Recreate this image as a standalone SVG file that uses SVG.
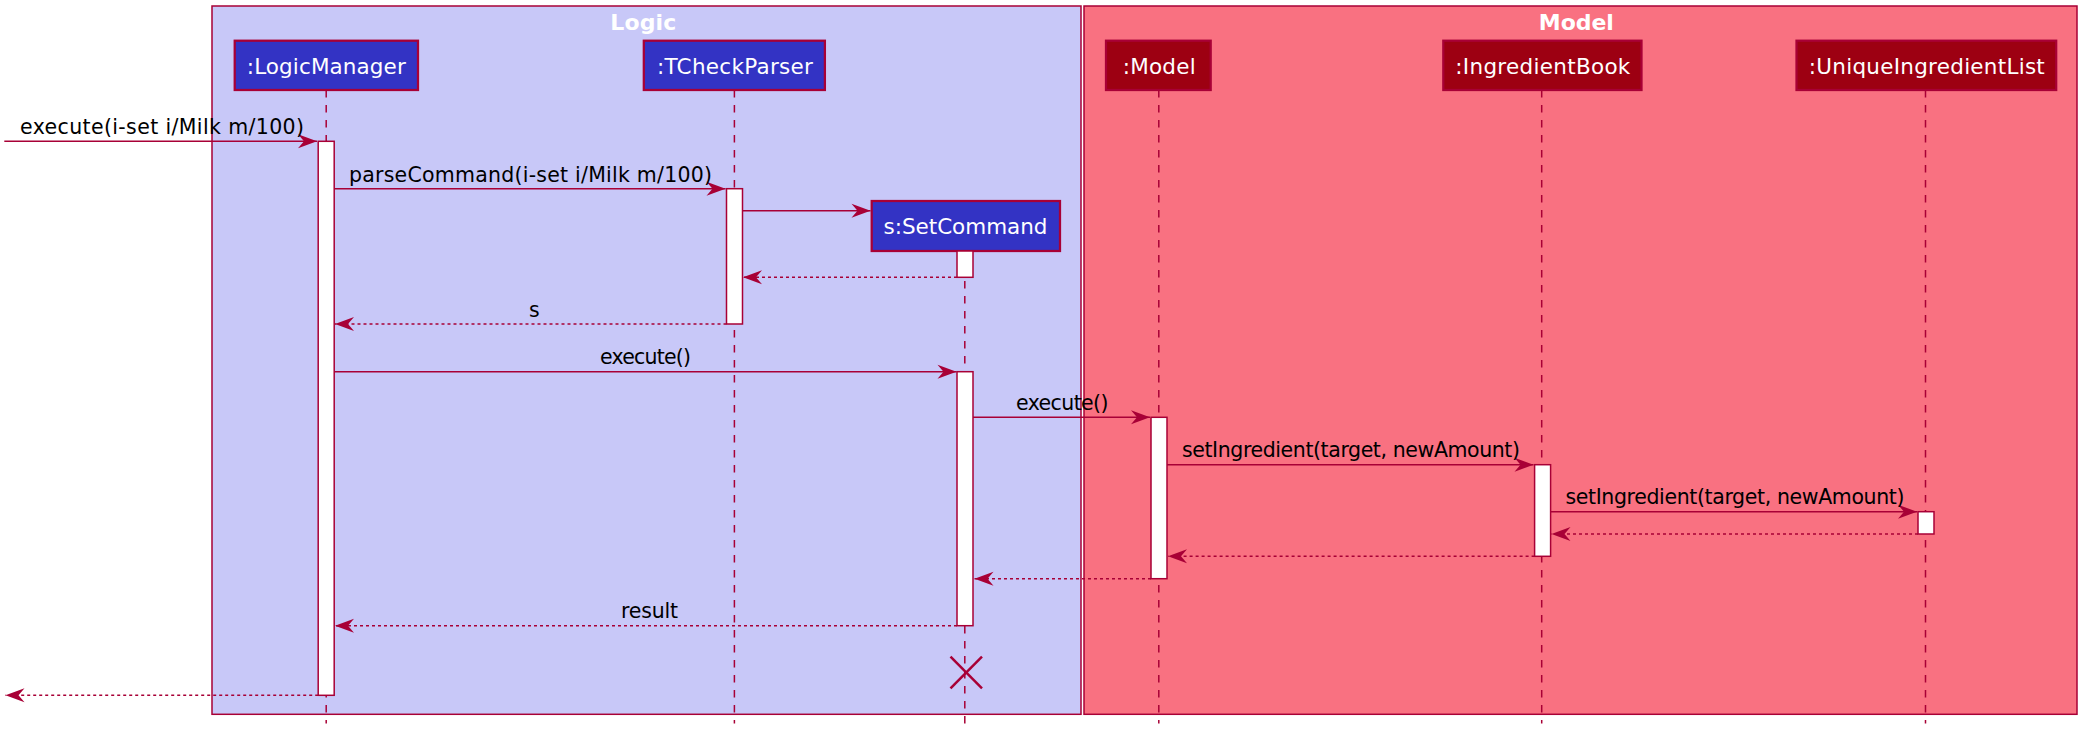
<svg xmlns="http://www.w3.org/2000/svg" width="2093" height="741" viewBox="0 0 2093 741">
<style>
.frame{stroke:#A80036;stroke-width:1.5}
.title{font-family:"DejaVu Sans",sans-serif;font-weight:bold;font-size:22px;fill:#FFFFFF;text-anchor:middle}
.life{stroke:#A80036;stroke-width:1.5;stroke-dasharray:7.5 7.5;fill:none}
.pl{fill:#3333C4;stroke:#A80036;stroke-width:2.25}
.pm{fill:#9D0012;stroke:#A80036;stroke-width:2.25}
.ptxt{font-family:"DejaVu Sans",sans-serif;font-size:21.5px;fill:#FFFFFF;text-anchor:middle}
.act{fill:#FFFFFF;stroke:#A80036;stroke-width:1.5}
.msg{stroke:#A80036;stroke-width:1.5;fill:none;marker-end:url(#arr)}
.ret{stroke:#A80036;stroke-width:1.5;fill:none;stroke-dasharray:3 3;marker-end:url(#arr)}
.lbl{font-family:"DejaVu Sans",sans-serif;font-size:20.5px;fill:#000000}
.x{stroke:#A80036;stroke-width:2.5}
</style>
<defs>
<marker id="arr" viewBox="-20 -8 21 16" refX="0" refY="0" markerWidth="21" markerHeight="16" markerUnits="userSpaceOnUse" orient="auto">
<path d="M0,0 L-19,-7 L-13,0 L-19,7 Z" fill="#A80036"/>
</marker>
</defs>
<rect width="2093" height="741" fill="#FFFFFF"/>
<g id="frame-logic">
<rect class="frame" x="212" y="6" width="869" height="708.3" fill="#C8C8F8"/>
<text class="title" x="643.3" y="29.5" textLength="66">Logic</text>
</g>
<g id="frame-model">
<rect class="frame" x="1084" y="6" width="993" height="708.3" fill="#F97181"/>
<text class="title" x="1576.3" y="29.5" textLength="75">Model</text>
</g>
<g id="lifelines">
<line class="life" x1="326.2" y1="90" x2="326.2" y2="723.5"/>
<line class="life" x1="734.4" y1="90" x2="734.4" y2="723.5"/>
<line class="life" x1="964.8" y1="251" x2="964.8" y2="723.5"/>
<line class="life" x1="1158.8" y1="90" x2="1158.8" y2="723.5"/>
<line class="life" x1="1541.7" y1="90" x2="1541.7" y2="723.5"/>
<line class="life" x1="1925.5" y1="90" x2="1925.5" y2="723.5"/>
</g>
<g id="p-logicmanager">
<rect class="pl" x="234.7" y="40.7" width="183.3" height="49.3"/>
<text class="ptxt" x="326.3" y="74" textLength="159">:LogicManager</text>
<rect class="act" x="318.2" y="141.3" width="16" height="554"/>
</g>
<g id="p-tcheckparser">
<rect class="pl" x="643.8" y="40.7" width="181.1" height="49.3"/>
<text class="ptxt" x="734.9" y="74" textLength="156">:TCheckParser</text>
<rect class="act" x="726.5" y="188.7" width="16" height="135.3"/>
</g>
<g id="p-setcommand">
<rect class="pl" x="871.7" y="201" width="188.3" height="50"/>
<text class="ptxt" x="965.5" y="234" textLength="164">s:SetCommand</text>
<rect class="act" x="957" y="251" width="16" height="26.3"/>
<rect class="act" x="957" y="371.7" width="16" height="254"/>
<line class="x" x1="950.5" y1="656.7" x2="982" y2="688.3"/>
<line class="x" x1="950.5" y1="688.3" x2="982" y2="656.7"/>
</g>
<g id="p-model">
<rect class="pm" x="1106" y="40.7" width="104.7" height="49.3"/>
<text class="ptxt" x="1159.2" y="74" textLength="73">:Model</text>
<rect class="act" x="1151" y="417.3" width="16" height="161.4"/>
</g>
<g id="p-ingredientbook">
<rect class="pm" x="1443.3" y="40.7" width="198.2" height="49.3"/>
<text class="ptxt" x="1542.8" y="74" textLength="175">:IngredientBook</text>
<rect class="act" x="1534.6" y="464.7" width="16" height="91.6"/>
</g>
<g id="p-uniqueingredientlist">
<rect class="pm" x="1796.5" y="40.7" width="259.7" height="49.3"/>
<text class="ptxt" x="1926.8" y="74" textLength="236">:UniqueIngredientList</text>
<rect class="act" x="1918" y="511.7" width="16" height="22.3"/>
</g>
<g id="connectors">
<line class="msg" x1="4.3" y1="141.3" x2="317" y2="141.3"/>
<text class="lbl" x="20" y="134" textLength="284">execute(i-set i/Milk m/100)</text>
<line class="msg" x1="334.2" y1="188.7" x2="725.5" y2="188.7"/>
<text class="lbl" x="349" y="181.5" textLength="363">parseCommand(i-set i/Milk m/100)</text>
<line class="msg" x1="742.5" y1="210.7" x2="870.5" y2="210.7"/>
<line class="ret" x1="957" y1="277.3" x2="743" y2="277.3"/>
<line class="ret" x1="726.5" y1="324" x2="335" y2="324"/>
<text class="lbl" x="529" y="316.7">s</text>
<line class="msg" x1="334.2" y1="371.7" x2="956.5" y2="371.7"/>
<text class="lbl" x="600" y="364.4" textLength="91">execute()</text>
<line class="msg" x1="973" y1="417.3" x2="1150" y2="417.3"/>
<text class="lbl" x="1016" y="410" textLength="92.5">execute()</text>
<line class="msg" x1="1167" y1="464.7" x2="1533.5" y2="464.7"/>
<text class="lbl" x="1182" y="457.4" textLength="338">setIngredient(target, newAmount)</text>
<line class="msg" x1="1550.6" y1="511.7" x2="1917" y2="511.7"/>
<text class="lbl" x="1565.5" y="504.4" textLength="339">setIngredient(target, newAmount)</text>
<line class="ret" x1="1918" y1="534" x2="1551.5" y2="534"/>
<line class="ret" x1="1534.6" y1="556.3" x2="1168" y2="556.3"/>
<line class="ret" x1="1151" y1="578.7" x2="974.5" y2="578.7"/>
<line class="ret" x1="957" y1="625.7" x2="335" y2="625.7"/>
<text class="lbl" x="621" y="618.4" textLength="57">result</text>
<line class="ret" x1="318.2" y1="695.3" x2="5.5" y2="695.3"/>
</g>
</svg>
